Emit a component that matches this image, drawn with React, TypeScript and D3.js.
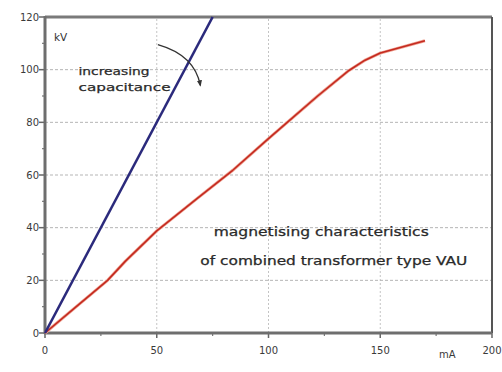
import * as d3 from "d3";
import React from "react";

// kV vs mA
const capLine: [number, number][] = [
  [0, 0],
  [75, 120],
];

const magnetising: [number, number][] = [
  [0, 0],
  [14, 10],
  [28, 20],
  [36, 27.3],
  [50, 38.8],
  [68, 51],
  [84, 61.8],
  [100, 73.8],
  [108, 79.7],
  [122, 90],
  [136, 99.7],
  [143, 103.5],
  [150, 106.3],
  [170, 111],
];

const xMajor = [0, 50, 100, 150, 200];
const xMinor = [25, 75, 125, 175];
const yMajor = [0, 20, 40, 60, 80, 100, 120];
const yMinor = [10, 30, 50, 70, 90, 110];
const xGrid = [50, 100, 150];
const yGrid = [20, 40, 60, 80, 100];

// annotation arrow (data units): start, control, end
const arrowPts: [number, number][] = [
  [50.5, 109.5],
  [67, 105.5],
  [69.5, 94],
];

const W = 502;
const H = 372;
const FONT = "'DejaVu Sans', 'Liberation Sans', Arial, sans-serif";

export default function App() {
  const x = d3.scaleLinear().domain([0, 200]).range([45, 492]);
  const y = d3.scaleLinear().domain([0, 120]).range([333, 17]);

  const line = d3
    .line<[number, number]>()
    .x((d) => x(d[0]))
    .y((d) => y(d[1]));

  const [a0, a1, a2] = arrowPts;
  const arrowPath = `M${x(a0[0])},${y(a0[1])} Q${x(a1[0])},${y(a1[1])} ${x(a2[0])},${y(a2[1])}`;

  return (
    <div style={{ position: "fixed", left: 0, top: 0, width: W, height: H, background: "#fff" }}>
      <svg width={W} height={H} style={{ display: "block", fontFamily: FONT }}>
        <defs>
          <marker id="ah" viewBox="0 0 10 10" refX="8" refY="5" markerWidth="5" markerHeight="5" orient="auto">
            <path d="M0,1 L10,5 L0,9 z" fill="#333" />
          </marker>
        </defs>

        {/* grid */}
        {xGrid.map((v) => (
          <line key={"gx" + v} x1={x(v)} x2={x(v)} y1={y(0)} y2={y(120)}
            stroke="#c4c4c4" strokeWidth={1} strokeDasharray="2,2" />
        ))}
        {yGrid.map((v) => (
          <line key={"gy" + v} x1={x(0)} x2={x(200)} y1={y(v)} y2={y(v)}
            stroke="#b5b5b5" strokeWidth={1} strokeDasharray="3,2" />
        ))}

        {/* frame */}
        <line x1={x(0)} x2={x(200)} y1={y(120)} y2={y(120)} stroke="#7a7a7a" strokeWidth={3} />
        <line x1={x(200)} x2={x(200)} y1={y(120)} y2={y(0)} stroke="#555" strokeWidth={2} />

        {/* y ticks */}
        {yMajor.map((v) => (
          <g key={"yt" + v}>
            <line x1={x(0) - 6} x2={x(0)} y1={y(v)} y2={y(v)} stroke="#666" strokeWidth={1.5} />
            <text x={x(0) - 6} y={y(v)} dy="0.35em" textAnchor="end" fontSize={10} fill="#3a3a3a">
              {v}
            </text>
          </g>
        ))}
        {yMinor.map((v) => (
          <line key={"ym" + v} x1={x(0) - 3} x2={x(0) + 1} y1={y(v)} y2={y(v)} stroke="#777" strokeWidth={1.2} />
        ))}

        {/* x ticks */}
        {xMajor.map((v) => (
          <g key={"xt" + v}>
            <line x1={x(v)} x2={x(v)} y1={y(0)} y2={y(0) + 5} stroke="#666" strokeWidth={1.5} />
            <text x={x(v)} y={y(0) + 17} dy="0.35em" textAnchor="middle" fontSize={10} fill="#3a3a3a">
              {v}
            </text>
          </g>
        ))}
        {xMinor.map((v) => (
          <line key={"xm" + v} x1={x(v)} x2={x(v)} y1={y(0) - 1} y2={y(0) + 3} stroke="#777" strokeWidth={1.2} />
        ))}

        {/* axes */}
        <line x1={x(0)} x2={x(0)} y1={y(120) - 1} y2={y(0) + 1} stroke="#6e6e6e" strokeWidth={3} />
        <line x1={x(0) - 1} x2={x(200)} y1={y(0)} y2={y(0)} stroke="#6e6e6e" strokeWidth={3} />

        {/* curves */}
        <path d={line(magnetising) ?? ""} fill="none" stroke="#efa292" strokeWidth={3} strokeLinejoin="round" />
        <path d={line(magnetising) ?? ""} fill="none" stroke="#c42a20" strokeWidth={1.6} strokeLinejoin="round" />
        <path d={line(capLine) ?? ""} fill="none" stroke="#2b2a7c" strokeWidth={2.6} />

        {/* units */}
        <text x={x(4)} y={y(111)} fontSize={10.5} fill="#333">kV</text>
        <text x={x(180)} y={y(-9.5)} textAnchor="middle" fontSize={10} fill="#3a3a3a">mA</text>

        {/* annotation */}
        <path d={arrowPath} fill="none" stroke="#333" strokeWidth={1.3} markerEnd="url(#ah)" />
        <g fontSize={11} fill="#2a2a2a" stroke="#2a2a2a" strokeWidth={0.25}>
          <text x={x(15)} y={y(98)} textLength={71} lengthAdjust="spacingAndGlyphs">increasing</text>
          <text x={x(15)} y={y(92)} textLength={92} lengthAdjust="spacingAndGlyphs">capacitance</text>
        </g>

        <g fontSize={11.5} fill="#2a2a2a" stroke="#2a2a2a" strokeWidth={0.25}>
          <text x={x(75.5)} y={y(36.7)} textLength={215} lengthAdjust="spacingAndGlyphs">magnetising characteristics</text>
          <text x={x(69.5)} y={y(26)} textLength={267} lengthAdjust="spacingAndGlyphs">of combined transformer type VAU</text>
        </g>
      </svg>
    </div>
  );
}
